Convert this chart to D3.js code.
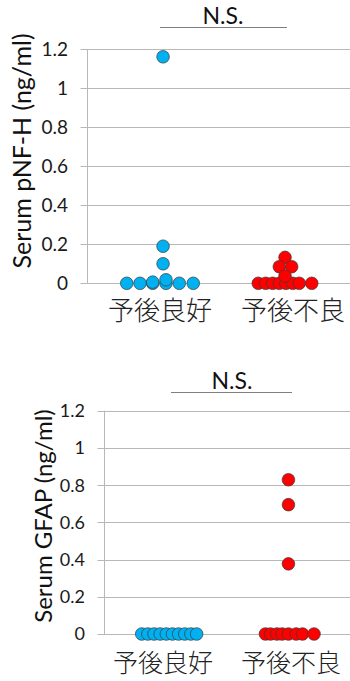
<!DOCTYPE html>
<html>
<head>
<meta charset="utf-8">
<script src="https://cdnjs.cloudflare.com/ajax/libs/d3/7.8.5/d3.min.js"></script>
<style>
  html, body { margin: 0; padding: 0; background: #fff; }
  svg { display: block; }
</style>
</head>
<body>
<svg id="chart" width="350" height="681"></svg>
<script>
// Group labels and y-axis ticks
const groups = ["予後良好", "予後不良"];
const yTicks = [0, 0.2, 0.4, 0.6, 0.8, 1, 1.2];
const yTickLabels = ["0", "0.2", "0.4", "0.6", "0.8", "1", "1.2"];

// Serum pNF-H (ng/ml): scatter x positions (group 1 = 1, group 2 = 2, spread) and values
const pnfhGoodX   = [0.75, 0.85, 0.945, 0.945, 1.045, 1.045, 1.145, 1.25, 1.023, 1.023, 1.023];
const pnfhGoodVal = [0, 0, 0, 0.006, 0, 0.018, 0, 0, 0.10, 0.19, 1.16];
const pnfhPoorX   = [1.739, 1.795, 1.847, 1.897, 1.947, 1.998, 2.047, 2.141, 1.94, 1.897, 1.99, 1.94];
const pnfhPoorVal = [0, 0, 0, 0, 0, 0, 0, 0, 0.133, 0.085, 0.085, 0.037];

// Serum GFAP (ng/ml)
const gfapGoodX   = [0.834, 0.882, 0.93, 0.978, 1.026, 1.074, 1.122, 1.17, 1.218, 1.263];
const gfapGoodVal = [0, 0, 0, 0, 0, 0, 0, 0, 0, 0];
const gfapPoorX   = [1.80, 1.84, 1.89, 1.93, 1.98, 2.04, 2.09, 2.18, 1.98, 1.98, 1.98];
const gfapPoorVal = [0, 0, 0, 0, 0, 0, 0, 0, 0.377, 0.695, 0.829];

const svg = d3.select("#chart");
const BLUE = "#00B0F0", RED = "#FF0000";

function panel(cfg) {
  const g = svg.append("g");
  const y = d3.scaleLinear().domain([0, 1.2]).range([cfg.y0, cfg.y1]);
  const x = d3.scaleLinear().domain([1, 2]).range(cfg.xr);

  // gridlines (extend left of the axis as tick marks)
  g.selectAll("line.grid").data(yTicks).join("line")
    .attr("x1", cfg.axisX - 6.5).attr("x2", 350)
    .attr("y1", d => Math.round(y(d)) + 0.5).attr("y2", d => Math.round(y(d)) + 0.5)
    .attr("stroke", "#B8B8B8").attr("stroke-width", 1);

  g.append("line")
    .attr("x1", cfg.axisX + 0.5).attr("x2", cfg.axisX + 0.5)
    .attr("y1", y(1.2)).attr("y2", y(0))
    .attr("stroke", "#B8B8B8").attr("stroke-width", 1);

  g.selectAll("text.tick").data(yTicks).join("text")
    .attr("x", cfg.tickX).attr("y", d => y(d))
    .attr("dy", "0.36em")
    .attr("text-anchor", "end")
    .attr("font-family", "Lato, 'Open Sans', sans-serif")
    .attr("font-size", cfg.tickSize)
    .attr("fill", "#1a1a1a")
    .text((d, i) => yTickLabels[i]);

  // y-axis title
  g.append("text")
    .attr("transform", `translate(${cfg.titleX},${cfg.titleY}) rotate(-90)`)
    .attr("text-anchor", "middle")
    .attr("font-family", "Lato, 'Open Sans', sans-serif")
    .attr("font-size", cfg.titleSize)
    .attr("fill", "#111")
    .text(cfg.title);

  // group labels
  g.selectAll("text.cat").data(groups).join("text")
    .attr("x", (d, i) => cfg.labelX[i])
    .attr("y", cfg.labelY)
    .attr("text-anchor", "middle")
    .attr("font-family", "'Noto Sans CJK JP', sans-serif")
    .attr("font-weight", 300)
    .attr("font-size", cfg.labelSize)
    .attr("fill", "#222")
    .text(d => d);

  // significance bar
  g.append("line")
    .attr("x1", cfg.nsX[0]).attr("x2", cfg.nsX[1])
    .attr("y1", cfg.nsY + 0.5).attr("y2", cfg.nsY + 0.5)
    .attr("stroke", "#7F7F7F").attr("stroke-width", 1);
  g.append("text")
    .attr("x", cfg.nsTextX).attr("y", cfg.nsY - 3)
    .attr("text-anchor", "middle")
    .attr("font-family", "Lato, 'Open Sans', sans-serif")
    .attr("font-size", 23)
    .attr("fill", "#111")
    .text("N.S.");

  // points
  const series = [
    { xs: cfg.goodX, vs: cfg.goodVal, color: BLUE },
    { xs: cfg.poorX, vs: cfg.poorVal, color: RED }
  ];
  series.forEach(s => {
    g.append("g").selectAll("circle").data(s.vs).join("circle")
      .attr("cx", (d, i) => x(s.xs[i]))
      .attr("cy", d => y(d))
      .attr("r", 6.3)
      .attr("fill", s.color)
      .attr("stroke", "#3a3a3a")
      .attr("stroke-width", 0.7);
  });
}

panel({
  y0: 283.3, y1: 49, xr: [160, 293], axisX: 87, tickX: 68, tickSize: 19,
  title: "Serum pNF-H (ng/ml)", titleX: 31, titleY: 151, titleSize: 25,
  labelX: [160, 293], labelY: 320, labelSize: 26,
  nsX: [160, 287], nsY: 27, nsTextX: 223,
  goodX: pnfhGoodX, goodVal: pnfhGoodVal, poorX: pnfhPoorX, poorVal: pnfhPoorVal
});

panel({
  y0: 634, y1: 410.7, xr: [163, 291], axisX: 104, tickX: 85, tickSize: 18,
  title: "Serum GFAP (ng/ml)", titleX: 52, titleY: 516, titleSize: 24,
  labelX: [163, 291], labelY: 672, labelSize: 25,
  nsX: [171, 292], nsY: 392, nsTextX: 232,
  goodX: gfapGoodX, goodVal: gfapGoodVal, poorX: gfapPoorX, poorVal: gfapPoorVal
});
</script>
</body>
</html>
